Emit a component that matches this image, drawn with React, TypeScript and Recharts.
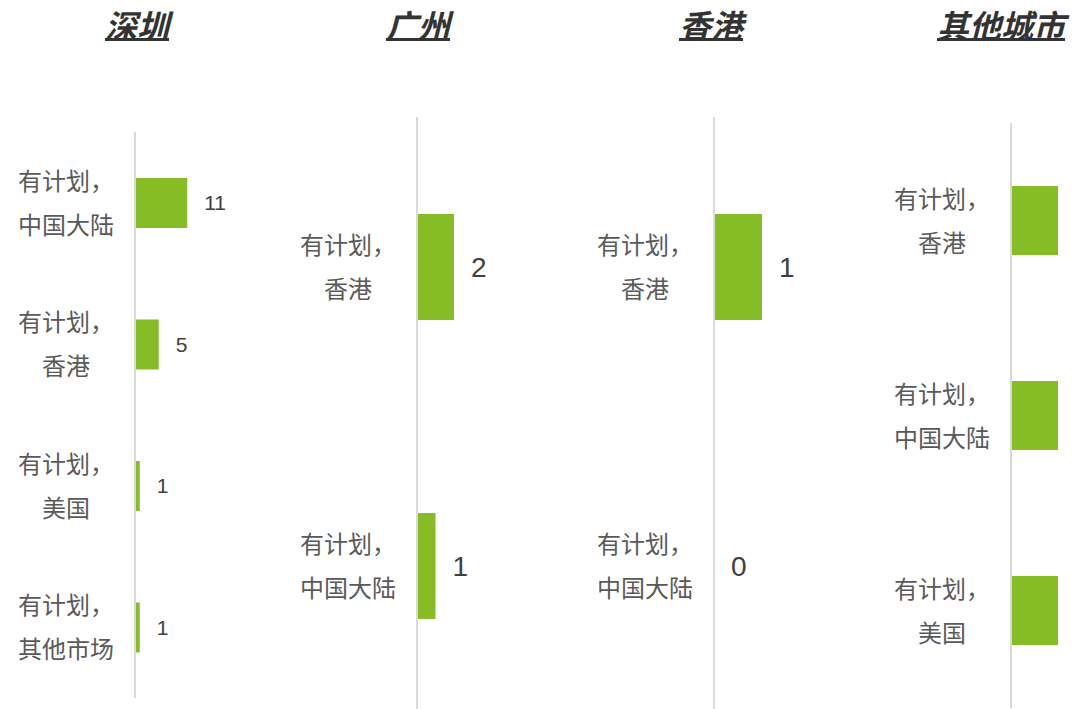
import { BarChart, Bar, XAxis, YAxis, LabelList } from "recharts"

// 深圳
const shenzhenCategories = ["有计划，中国大陆", "有计划，香港", "有计划，美国", "有计划，其他市场"]
const shenzhenValues = [11, 5, 1, 1]

// 广州
const guangzhouCategories = ["有计划，香港", "有计划，中国大陆"]
const guangzhouValues = [2, 1]

// 香港
const hongkongCategories = ["有计划，香港", "有计划，中国大陆"]
const hongkongValues = [1, 0]

// 其他城市 (no value labels in the original)
const otherCategories = ["有计划，香港", "有计划，中国大陆", "有计划，美国"]
const otherValues = [1, 1, 1]

const titles = ["深圳", "广州", "香港", "其他城市"]

const GREEN = "#86bc25"
const CJK = '"Noto Sans CJK SC", "Noto Sans", sans-serif'

type MiniProps = {
  categories: string[]
  values: number[]
  left: number
  axisX: number
  plotWidth: number
  domainMax: number
  top: number
  height: number
  bottom: number
  barSize: number
  labelSize: number
  showLabels: boolean
}

function MiniChart(p: MiniProps) {
  const data = p.categories.map((c, i) => ({ name: c, value: p.values[i] }))
  const axisWidth = p.axisX - p.left
  const right = 80
  const width = axisWidth + p.plotWidth + right
  const labelX = axisWidth - 69

  const renderTick = (props: any) => {
    const full: string = props.payload.value
    const idx = full.indexOf("，")
    const first = full.slice(0, idx + 1)
    const second = full.slice(idx + 1)
    return (
      <text
        x={labelX}
        y={props.y}
        textAnchor="middle"
        fill="#595959"
        fontSize={24}
        fontFamily={CJK}
      >
        <tspan x={labelX} dy={-13}>{first}</tspan>
        <tspan x={labelX} dy={44}>{second}</tspan>
      </text>
    )
  }

  return (
    <div style={{ position: "absolute", left: p.left, top: 0 }}>
      <BarChart
        width={width}
        height={p.height}
        data={data}
        layout="vertical"
        margin={{ top: p.top, right: right, bottom: p.bottom, left: 0 }}
      >
        <XAxis type="number" domain={[0, p.domainMax]} hide />
        <YAxis
          type="category"
          dataKey="name"
          width={axisWidth}
          axisLine={{ stroke: "#d9d9d9", strokeWidth: 2 }}
          tickLine={false}
          tickSize={0}
          tickMargin={0}
          tick={renderTick}
          interval={0}
        />
        <Bar
          dataKey="value"
          fill={GREEN}
          barSize={p.barSize}
          minPointSize={0.01}
          isAnimationActive={false}
        >
          {p.showLabels && (
            <LabelList
              dataKey="value"
              position="right"
              offset={17}
              fill="#404040"
              fontSize={p.labelSize}
              fontFamily='"Liberation Sans", Arial, sans-serif'
            />
          )}
        </Bar>
      </BarChart>
    </div>
  )
}

const titleCenters = [137, 418, 711, 1001]

export default function App() {
  return (
    <div
      style={{
        position: "absolute",
        left: 0,
        top: 0,
        width: 1074,
        height: 709,
        overflow: "hidden",
        background: "#fff",
      }}
    >
      {titles.map((t, i) => (
        <div
          key={t}
          style={{
            position: "absolute",
            left: titleCenters[i] - 100,
            width: 200,
            top: 3,
            textAlign: "center",
            fontFamily: CJK,
            fontSize: 32,
            lineHeight: "42px",
            fontWeight: "bold",
            fontStyle: "italic",
            textDecoration: "underline",
            textUnderlineOffset: "0px",
            color: "#333",
            whiteSpace: "nowrap",
          }}
        >
          {t}
        </div>
      ))}

      <MiniChart
        categories={shenzhenCategories}
        values={shenzhenValues}
        left={0}
        axisX={135}
        plotWidth={95}
        domainMax={20}
        top={132}
        height={709}
        bottom={11}
        barSize={50}
        labelSize={21}
        showLabels={true}
      />
      <MiniChart
        categories={guangzhouCategories}
        values={guangzhouValues}
        left={250}
        axisX={417}
        plotWidth={74}
        domainMax={4}
        top={117}
        height={720}
        bottom={5}
        barSize={106}
        labelSize={28}
        showLabels={true}
      />
      <MiniChart
        categories={hongkongCategories}
        values={hongkongValues}
        left={550}
        axisX={714}
        plotWidth={96}
        domainMax={2}
        top={117}
        height={720}
        bottom={5}
        barSize={106}
        labelSize={28}
        showLabels={true}
      />
      <MiniChart
        categories={otherCategories}
        values={otherValues}
        left={860}
        axisX={1011}
        plotWidth={47}
        domainMax={1}
        top={123}
        height={709}
        bottom={1}
        barSize={69}
        labelSize={28}
        showLabels={false}
      />
    </div>
  )
}
